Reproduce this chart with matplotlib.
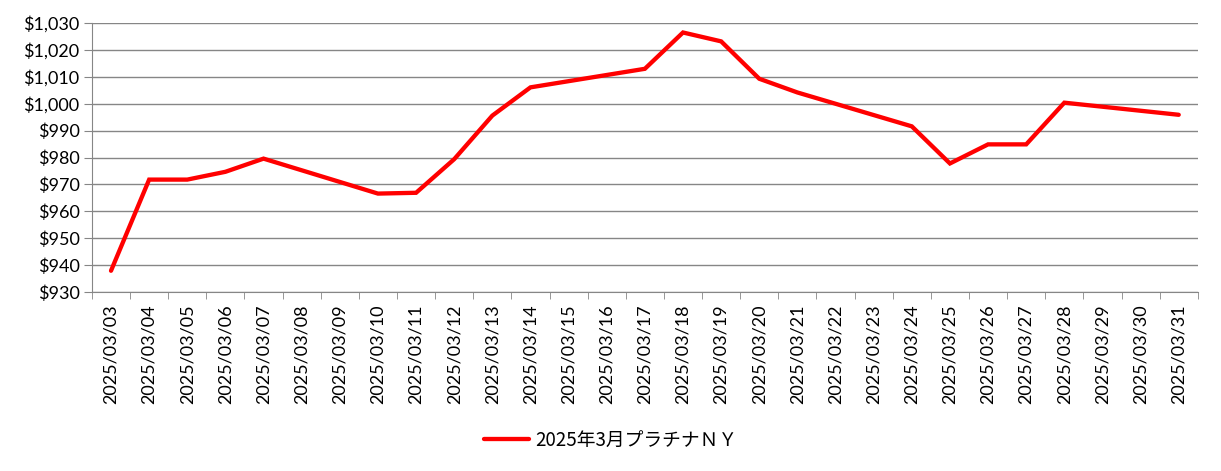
import numpy as np
from matplotlib import pyplot as plt
from matplotlib.ticker import FuncFormatter, MultipleLocator

# 2025/03/03 .. 2025/03/31 (weekends have no price)
days = list(range(3, 32))
labels = [f"2025/03/{d:02d}" for d in days]
prices = [
    937.9, 971.8, 971.8, 974.7, 979.6, None, None,
    966.6, 966.9, 979.4, 995.6, 1006.1, None, None,
    1013.0, 1026.5, 1023.2, 1009.3, 1004.2, None, None,
    991.6, 977.8, 984.9, 984.9, 1000.4, None, None,
    995.9,
]
series_name = "2025年3月プラチナＮＹ"

plt.rcParams["font.family"] = ["Lato", "Noto Sans CJK JP", "DejaVu Sans"]

fig = plt.figure(figsize=(12.21, 4.71), dpi=100)
ax = fig.add_axes([0.0753, 0.380, 0.9057, 0.571])

# connect the trading days only, as the spreadsheet does
xs = [i for i, p in enumerate(prices) if p is not None]
ys = [p for p in prices if p is not None]
ax.plot(xs, ys, color="#ff0000", linewidth=3.1, solid_capstyle="round",
        solid_joinstyle="miter", label=series_name, zorder=3)

ax.set_xlim(-0.5, len(labels) - 0.5)
ax.set_ylim(930, 1030)
ax.yaxis.set_major_locator(MultipleLocator(10))
ax.yaxis.set_major_formatter(FuncFormatter(lambda v, _: f"${v:,.0f}"))
ax.grid(axis="y", color="#868686", linewidth=1.0)
ax.set_axisbelow(True)

ax.set_xticks(range(len(labels)))
ax.set_xticklabels(labels, rotation=90, fontsize=13)
ax.set_xticks(np.arange(-0.5, len(labels), 1.0), minor=True)
ax.tick_params(axis="x", which="major", length=0, pad=9)
ax.tick_params(axis="x", which="minor", length=5, color="#868686")
ax.tick_params(axis="y", length=6, color="#868686", labelsize=13, pad=3)

for s in ("top", "right"):
    ax.spines[s].set_visible(False)
for s in ("left", "bottom"):
    ax.spines[s].set_color("#868686")

fig.legend(loc="center", bbox_to_anchor=(0.5, 0.066), frameon=False,
           handlelength=2.4, handletextpad=0.3,
           prop={"family": ["Noto Sans CJK JP", "DejaVu Sans"], "size": 13.5})

fig.savefig("out.png", dpi=100)
